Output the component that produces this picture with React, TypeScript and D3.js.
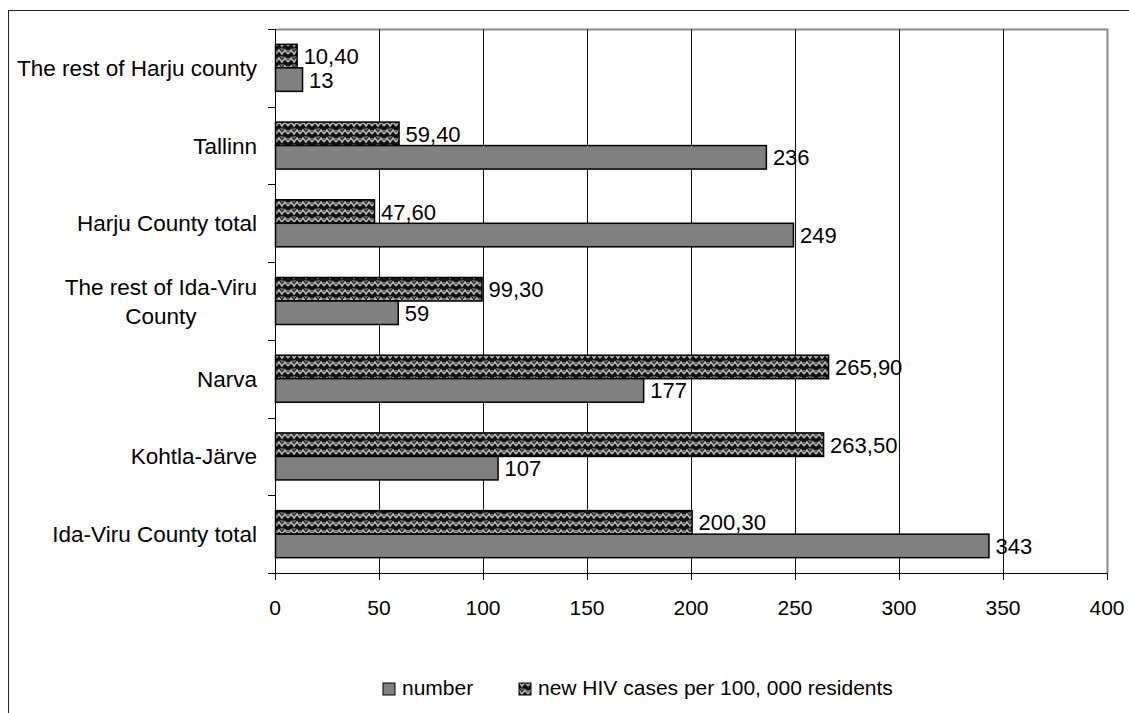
import React, { useEffect, useRef } from "react";
import * as d3 from "d3";

// categories top to bottom, as in the chart
const categories = [
    "The rest of Harju county",
    "Tallinn",
    "Harju County total",
    "The rest of Ida-Viru County",
    "Narva",
    "Kohtla-Järve",
    "Ida-Viru County total",
];
const numberValues = [13, 236, 249, 59, 177, 107, 343];
const rateValues = [10.4, 59.4, 47.6, 99.3, 265.9, 263.5, 200.3];
const xTicks = [0, 50, 100, 150, 200, 250, 300, 350, 400];
const seriesNames = ["number", "new HIV cases per 100, 000 residents"];

const WIDTH = 1129;
const HEIGHT = 713;
const FONT = "Liberation Sans, Arial, sans-serif";

export default function App() {
    const ref = useRef<SVGSVGElement>(null);

    useEffect(() => {
        const svg = d3.select(ref.current);
        svg.selectAll("*").remove();

        const plot = { left: 275, right: 1107, top: 29, bottom: 573 };

        const x = d3.scaleLinear().domain([0, 400]).range([plot.left, plot.right]);
        const y = d3.scaleBand<string>()
            .domain(categories)
            .range([plot.top, plot.bottom])
            .paddingInner(0.395)
            .paddingOuter(0.1975);
        const inner = d3.scaleBand<string>()
            .domain(["rate", "number"])
            .range([0, y.bandwidth()]);

        // hatch fill like the excel "weave" pattern
        const defs = svg.append("defs");
        const pat = defs.append("pattern")
            .attr("id", "weave")
            .attr("patternUnits", "userSpaceOnUse")
            .attr("width", 12)
            .attr("height", 8);
        pat.append("rect").attr("width", 12).attr("height", 8).attr("fill", "#111");
        pat.append("path")
            .attr("d", "M0,6 L3,2 L6,6 L9,2 L12,6")
            .attr("fill", "none")
            .attr("stroke", "#b0b0b0")
            .attr("stroke-width", 1.7);
        pat.append("path")
            .attr("d", "M0,2 L1.5,4 M10.5,4 L12,2 M4.5,0 L6,2 L7.5,0")
            .attr("fill", "none")
            .attr("stroke", "#777")
            .attr("stroke-width", 1.2);

        // outer frame (cut by the picture edges)
        svg.append("rect")
            .attr("x", 8.5).attr("y", 10.5)
            .attr("width", WIDTH + 20).attr("height", HEIGHT + 20)
            .attr("fill", "none").attr("stroke", "#222");

        // plot border
        svg.append("path")
            .attr("d", `M${plot.left},${plot.top + 0.5}H${plot.right + 0.5}V${plot.bottom}`)
            .attr("fill", "none").attr("stroke", "#888").attr("stroke-width", 2);

        // grid lines
        svg.append("g").selectAll("line")
            .data(xTicks.filter(t => t > 0 && t < 400))
            .enter()
            .append("line")
            .attr("x1", d => Math.round(x(d)) + 0.5).attr("x2", d => Math.round(x(d)) + 0.5)
            .attr("y1", plot.top).attr("y2", plot.bottom)
            .attr("stroke", "#111");

        // x axis
        const xAxis = svg.append("g");
        xAxis.append("line")
            .attr("x1", plot.left - 7).attr("x2", plot.right + 0.5)
            .attr("y1", plot.bottom + 0.5).attr("y2", plot.bottom + 0.5)
            .attr("stroke", "#000");
        xAxis.selectAll("line.tick")
            .data(xTicks)
            .enter()
            .append("line")
            .attr("class", "tick")
            .attr("x1", d => Math.round(x(d)) + 0.5).attr("x2", d => Math.round(x(d)) + 0.5)
            .attr("y1", plot.bottom).attr("y2", plot.bottom + 7)
            .attr("stroke", "#000");
        xAxis.selectAll("text")
            .data(xTicks)
            .enter()
            .append("text")
            .attr("x", d => x(d))
            .attr("y", 615)
            .attr("text-anchor", "middle")
            .attr("font-family", FONT)
            .attr("font-size", 21)
            .text(d => d);

        // y axis
        const bounds = categories.map(c => (y(c) as number) - (y.step() - y.bandwidth()) / 2);
        bounds.push(plot.bottom);
        const yAxis = svg.append("g");
        yAxis.append("line")
            .attr("x1", plot.left + 0.5).attr("x2", plot.left + 0.5)
            .attr("y1", plot.top).attr("y2", plot.bottom + 7)
            .attr("stroke", "#000");
        yAxis.selectAll("line.tick")
            .data(bounds)
            .enter()
            .append("line")
            .attr("class", "tick")
            .attr("x1", plot.left - 7).attr("x2", plot.left)
            .attr("y1", d => Math.round(d) + 0.5).attr("y2", d => Math.round(d) + 0.5)
            .attr("stroke", "#000");

        // category labels, wrapped when too wide
        const labelRight = 257;
        categories.forEach(c => {
            const cy = (y(c) as number) + y.bandwidth() / 2;
            const t = yAxis.append("text")
                .attr("font-family", FONT)
                .attr("font-size", 22.5)
                .attr("text-anchor", "middle");
            const words = c.split(" ");
            const lines: string[] = [];
            let cur: string[] = [];
            for (const w of words) {
                t.text([...cur, w].join(" "));
                const len = (t.node() as SVGTextElement).getComputedTextLength();
                if (len > 252 && cur.length) {
                    lines.push(cur.join(" "));
                    cur = [w];
                } else {
                    cur.push(w);
                }
            }
            lines.push(cur.join(" "));
            t.text(null);
            const lineH = 29;
            const spans = lines.map((l, i) => t.append("tspan").text(l).attr("dy", i === 0 ? 0 : lineH));
            const widest = d3.max(spans, s => (s.node() as SVGTSpanElement).getComputedTextLength()) as number;
            const firstBaseline = cy + 8 - ((lines.length - 1) * lineH) / 2;
            t.attr("y", firstBaseline);
            spans.forEach(s => s.attr("x", labelRight - widest / 2));
        });

        const fmtRate = (v: number) => d3.format(".2f")(v).replace(".", ",");

        const series = [
            { key: "rate", values: rateValues, fill: "url(#weave)", fmt: fmtRate },
            { key: "number", values: numberValues, fill: "#808080", fmt: (v: number) => String(v) },
        ];

        series.forEach(s => {
            const g = svg.append("g");
            g.selectAll("rect")
                .data(categories)
                .enter()
                .append("rect")
                .attr("x", x(0) + 0.5)
                .attr("y", c => (y(c) as number) + (inner(s.key) as number))
                .attr("width", (c, i) => x(s.values[i]) - x(0))
                .attr("height", inner.bandwidth())
                .attr("fill", s.fill)
                .attr("stroke", "#000")
                .attr("stroke-width", 1.5);
            g.selectAll("text")
                .data(categories)
                .enter()
                .append("text")
                .attr("x", (c, i) => x(s.values[i]) + 7)
                .attr("y", c => (y(c) as number) + (inner(s.key) as number) + inner.bandwidth() / 2 + 8)
                .attr("font-family", FONT)
                .attr("font-size", 22)
                .text((c, i) => s.fmt(s.values[i]));
        });

        // legend
        const legend = svg.append("g");
        const items = [
            { name: seriesNames[0], fill: "#808080", x: 383 },
            { name: seriesNames[1], fill: "url(#weave)", x: 519 },
        ];
        items.forEach(it => {
            legend.append("rect")
                .attr("x", it.x).attr("y", 683)
                .attr("width", 12).attr("height", 12)
                .attr("fill", it.fill)
                .attr("stroke", "#000");
            legend.append("text")
                .attr("x", it.x + 19).attr("y", 695)
                .attr("font-family", FONT)
                .attr("font-size", 21)
                .text(it.name);
        });
    }, []);

    return <div style={{ position: "absolute", left: 0, top: 0 }}>
        <svg ref={ref} width={WIDTH} height={HEIGHT} style={{ display: "block", background: "#fff" }}></svg>
    </div>;
}
